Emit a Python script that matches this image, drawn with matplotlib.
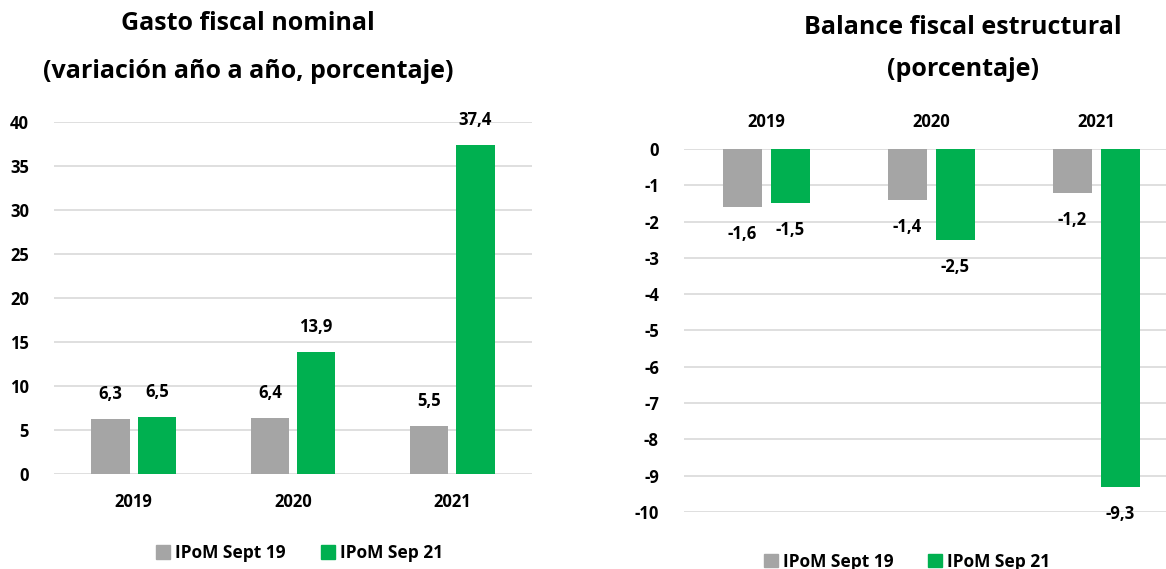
import numpy as np
import matplotlib.pyplot as plt
from matplotlib.transforms import blended_transform_factory
from matplotlib.patches import Patch

plt.rcParams['font.family'] = ['Open Sans', 'DejaVu Sans']
plt.rcParams['font.weight'] = 'bold'
plt.rcParams['axes.unicode_minus'] = False

years = ['2019', '2020', '2021']
series = ['IPoM Sept 19', 'IPoM Sep 21']
gasto_sep19 = [6.3, 6.4, 5.5]
gasto_sep21 = [6.5, 13.9, 37.4]
balance_sep19 = [-1.6, -1.4, -1.2]
balance_sep21 = [-1.5, -2.5, -9.3]

GRAY = '#A5A5A5'
GREEN = '#00B050'
GRID = '#D9D9D9'
FS = 12
LFS = 12.5
TFS = 18

def fmt(v):
    return f'{v:.1f}'.replace('.', ',')

fig = plt.figure(figsize=(11.66, 5.69), dpi=100)

x = np.arange(len(years))
w = 0.24
off = 0.145

# left: gasto fiscal
ax1 = fig.add_axes([0.0463, 0.167, 0.41, 0.6186])
ax1.bar(x - off, gasto_sep19, w, color=GRAY, zorder=3)
ax1.bar(x + off, gasto_sep21, w, color=GREEN, zorder=3)
ax1.set_xlim(-0.5, 2.5)
ax1.set_ylim(0, 40)
ax1.set_yticks(np.arange(0, 41, 5))
ax1.grid(axis='y', color=GRID, lw=1.2, zorder=0)
ax1.set_xticks(x)
ax1.set_xticklabels(years)
ax1.tick_params(axis='x', length=0, pad=14, labelsize=FS)
ax1.tick_params(axis='y', length=0, pad=18, labelsize=FS)
for lab in ax1.get_xticklabels() + ax1.get_yticklabels():
    lab.set_fontweight('bold')
for s in ax1.spines.values():
    s.set_visible(False)
for xs, vals in ((x - off, gasto_sep19), (x + off, gasto_sep21)):
    for xi, v in zip(xs, vals):
        ax1.annotate(fmt(v), (xi, v), xytext=(0, 25), textcoords='offset pixels',
                     ha='center', va='center', fontsize=FS, fontweight='bold')
fig.text(0.213, 0.958, 'Gasto fiscal nominal', ha='center', va='center',
         fontsize=TFS, fontweight='bold')
fig.text(0.213, 0.875, '(variación año a año, porcentaje)', ha='center', va='center',
         fontsize=TFS, fontweight='bold')
handles = [Patch(color=GRAY), Patch(color=GREEN)]
fig.legend(handles, series, loc='center', bbox_to_anchor=(0.257, 0.028), ncol=2,
           frameon=False, prop={'size': LFS, 'weight': 'bold'}, handlelength=0.8,
           handleheight=0.8, handletextpad=0.3, columnspacing=2.0)

# right: balance fiscal estructural
ax2 = fig.add_axes([0.5866, 0.1002, 0.4245, 0.638])
ax2.bar(x - off, balance_sep19, w, color=GRAY, zorder=3)
ax2.bar(x + off, balance_sep21, w, color=GREEN, zorder=3)
ax2.set_xlim(-0.5, 2.5)
ax2.set_ylim(-10, 0)
ax2.set_yticks(np.arange(-10, 1, 1))
ax2.grid(axis='y', color=GRID, lw=1.2, zorder=0)
ax2.set_xticks([])
ax2.tick_params(axis='y', length=0, pad=18, labelsize=FS)
for lab in ax2.get_yticklabels():
    lab.set_fontweight('bold')
for s in ax2.spines.values():
    s.set_visible(False)
tr = blended_transform_factory(ax2.transData, ax2.transAxes)
for xi, yr in zip(x, years):
    ax2.annotate(yr, (xi, 1.0), xycoords=tr, xytext=(0, 27), textcoords='offset pixels',
                 ha='center', va='center', fontsize=FS, fontweight='bold')
for xs, vals in ((x - off, balance_sep19), (x + off, balance_sep21)):
    for xi, v in zip(xs, vals):
        ax2.annotate(fmt(v), (xi, v), xytext=(0, -27), textcoords='offset pixels',
                     ha='center', va='center', fontsize=FS, fontweight='bold')
fig.text(0.826, 0.952, 'Balance fiscal estructural', ha='center', va='center',
         fontsize=TFS, fontweight='bold')
fig.text(0.826, 0.877, '(porcentaje)', ha='center', va='center',
         fontsize=TFS, fontweight='bold')
fig.legend(handles, series, loc='center', bbox_to_anchor=(0.778, 0.013), ncol=2,
           frameon=False, prop={'size': LFS, 'weight': 'bold'}, handlelength=0.8,
           handleheight=0.8, handletextpad=0.3, columnspacing=2.0)

fig.savefig('out.png', dpi=100)
